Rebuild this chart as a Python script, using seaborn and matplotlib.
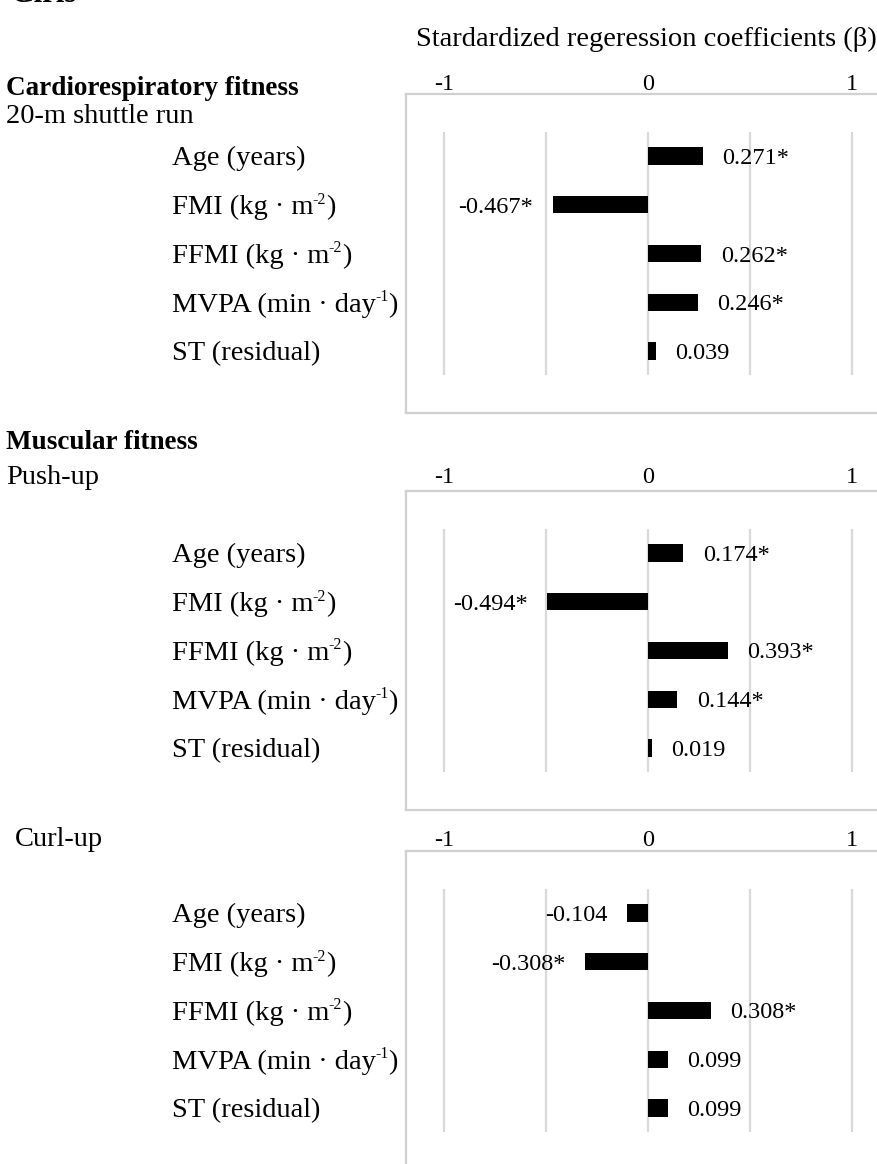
import matplotlib
matplotlib.use("Agg")
import matplotlib.pyplot as plt
import seaborn as sns
import pandas as pd

# ---------------- data ----------------
predictors = ["Age (years)", "FMI (kg · m-2)", "FFMI (kg · m-2)",
              "MVPA (min · day-1)", "ST (residual)"]
# display form of each predictor: (text, is_superscript) segments
predictor_parts = [
    [("Age (years)", False)],
    [("FMI (kg · m", False), ("-2", True), (")", False)],
    [("FFMI (kg · m", False), ("-2", True), (")", False)],
    [("MVPA (min · day", False), ("-1", True), (")", False)],
    [("ST (residual)", False)],
]
shuttle_beta = [0.271, -0.467, 0.262, 0.246, 0.039]
shuttle_sig = [True, True, True, True, False]
pushup_beta = [0.174, -0.494, 0.393, 0.144, 0.019]
pushup_sig = [True, True, True, True, False]
curlup_beta = [-0.104, -0.308, 0.308, 0.099, 0.099]
curlup_sig = [False, True, True, False, False]
tick_values = [-1, 0, 1]
tick_labels = ["-1", "0", "1"]
grid_values = [-1, -0.5, 0, 0.5, 1]

title = "Stardardized regeression coefficients (β)"

# ---------------- style ----------------
sns.set_theme(style="white")
plt.rcParams['font.family'] = ['Liberation Serif', 'DejaVu Serif']
plt.rcParams['text.color'] = 'black'
plt.rcParams['axes.labelcolor'] = 'black'
plt.rcParams['xtick.color'] = 'black'
plt.rcParams['ytick.color'] = 'black'

W, H = 878, 1164
fig = plt.figure(figsize=(W / 100, H / 100), dpi=100)
fig.patch.set_facecolor("white")
renderer = fig.canvas.get_renderer()

LABEL_FS = 20.5
BOLD_FS = 19.5
VALUE_FS = 17.5
SUP_SCALE = 0.56
GRID_C = "#d9d9d9"
BOX_C = "#d0d0d0"

# pixel geometry helpers
BOX_LEFT = 406
BOX_RIGHT = 905
BOX_H = 319
LABEL_X = 172
X_M1, X_P1 = 443.7, 852.0
PPU = (X_P1 - X_M1) / 2.0
ROW = 48.75
FIRST_ROW_OFF = 62  # from box top to first bar centre


def fy(py):
    return 1 - py / H


def rich_label(x_px, base_disp_y, parts, fs):
    """Draw text segments one after another; superscripts smaller and raised."""
    x = x_px
    fs_px = fs * 100 / 72
    for s, sup in parts:
        size = fs * SUP_SCALE if sup else fs
        yy = base_disp_y + (0.37 * fs_px if sup else 0)
        t = fig.text(x / W, yy / H, s, fontsize=size, va="baseline",
                     ha="left", color="black")
        bb = t.get_window_extent(renderer)
        x = bb.x1 + (0.0 if sup else -0.8)


def panel(box_top, values, sig, tick_pad):
    ax = fig.add_axes([BOX_LEFT / W, fy(box_top + BOX_H),
                       (BOX_RIGHT - BOX_LEFT) / W, BOX_H / H])
    df = pd.DataFrame({"predictor": predictors, "beta": values})
    sns.barplot(data=df, x="beta", y="predictor", color="black",
                saturation=1, width=0.35, linewidth=0, orient="h",
                ax=ax, zorder=3)
    xl = -1 - (X_M1 - BOX_LEFT) / PPU
    xr = 1 + (BOX_RIGHT - X_P1) / PPU
    ax.set_xlim(xl, xr)
    yt = -FIRST_ROW_OFF / ROW
    yb = 4 + (BOX_H - FIRST_ROW_OFF - 4 * ROW) / ROW
    ax.set_ylim(yb, yt)
    ax.vlines(grid_values, -0.5, 4.5, color=GRID_C, lw=1.6, zorder=1)
    for s in ax.spines.values():
        s.set_color(BOX_C)
        s.set_linewidth(1.6)
    ax.set_xlabel("")
    ax.set_ylabel("")
    ax.xaxis.tick_top()
    ax.set_xticks(tick_values)
    ax.set_xticklabels(tick_labels, fontsize=VALUE_FS)
    ax.tick_params(axis="x", length=0, pad=tick_pad, colors="black")
    ax.tick_params(axis="y", length=0)
    ax.set_yticklabels([])
    labels = [f"{v:.3f}" + ("*" if s else "") for v, s in zip(values, sig)]
    anns = ax.bar_label(ax.containers[0], labels=labels, padding=14,
                        fontsize=VALUE_FS, color="black")
    for a in anns:
        a.set_va("center_baseline")
    ax.grid(False)
    # row labels aligned with each bar
    fs_px = LABEL_FS * 100 / 72
    for i, parts in enumerate(predictor_parts):
        _, dy = ax.transData.transform((0, i))
        rich_label(LABEL_X, dy - 0.33 * fs_px, parts, LABEL_FS)
    return ax


panel(94, shuttle_beta, shuttle_sig, -1)
panel(491, pushup_beta, pushup_sig, 2)
panel(851, curlup_beta, curlup_sig, 0)

# ---------------- free texts ----------------
fig.text(10 / W, fy(1.5), "Girls", fontsize=22, fontweight="bold",
         va="baseline", ha="left")
fig.text(646 / W, fy(46), title, fontsize=LABEL_FS, va="baseline", ha="center")
fig.text(6 / W, fy(95), "Cardiorespiratory fitness", fontsize=BOLD_FS,
         fontweight="bold", va="baseline", ha="left")
fig.text(6 / W, fy(123), "20-m shuttle run", fontsize=LABEL_FS,
         va="baseline", ha="left")
fig.text(6 / W, fy(449), "Muscular fitness", fontsize=BOLD_FS,
         fontweight="bold", va="baseline", ha="left")
fig.text(6 / W, fy(484), "Push-up", fontsize=LABEL_FS,
         va="baseline", ha="left")
fig.text(15 / W, fy(846), "Curl-up", fontsize=LABEL_FS,
         va="baseline", ha="left")

fig.savefig("out.png", dpi=100, facecolor="white")
